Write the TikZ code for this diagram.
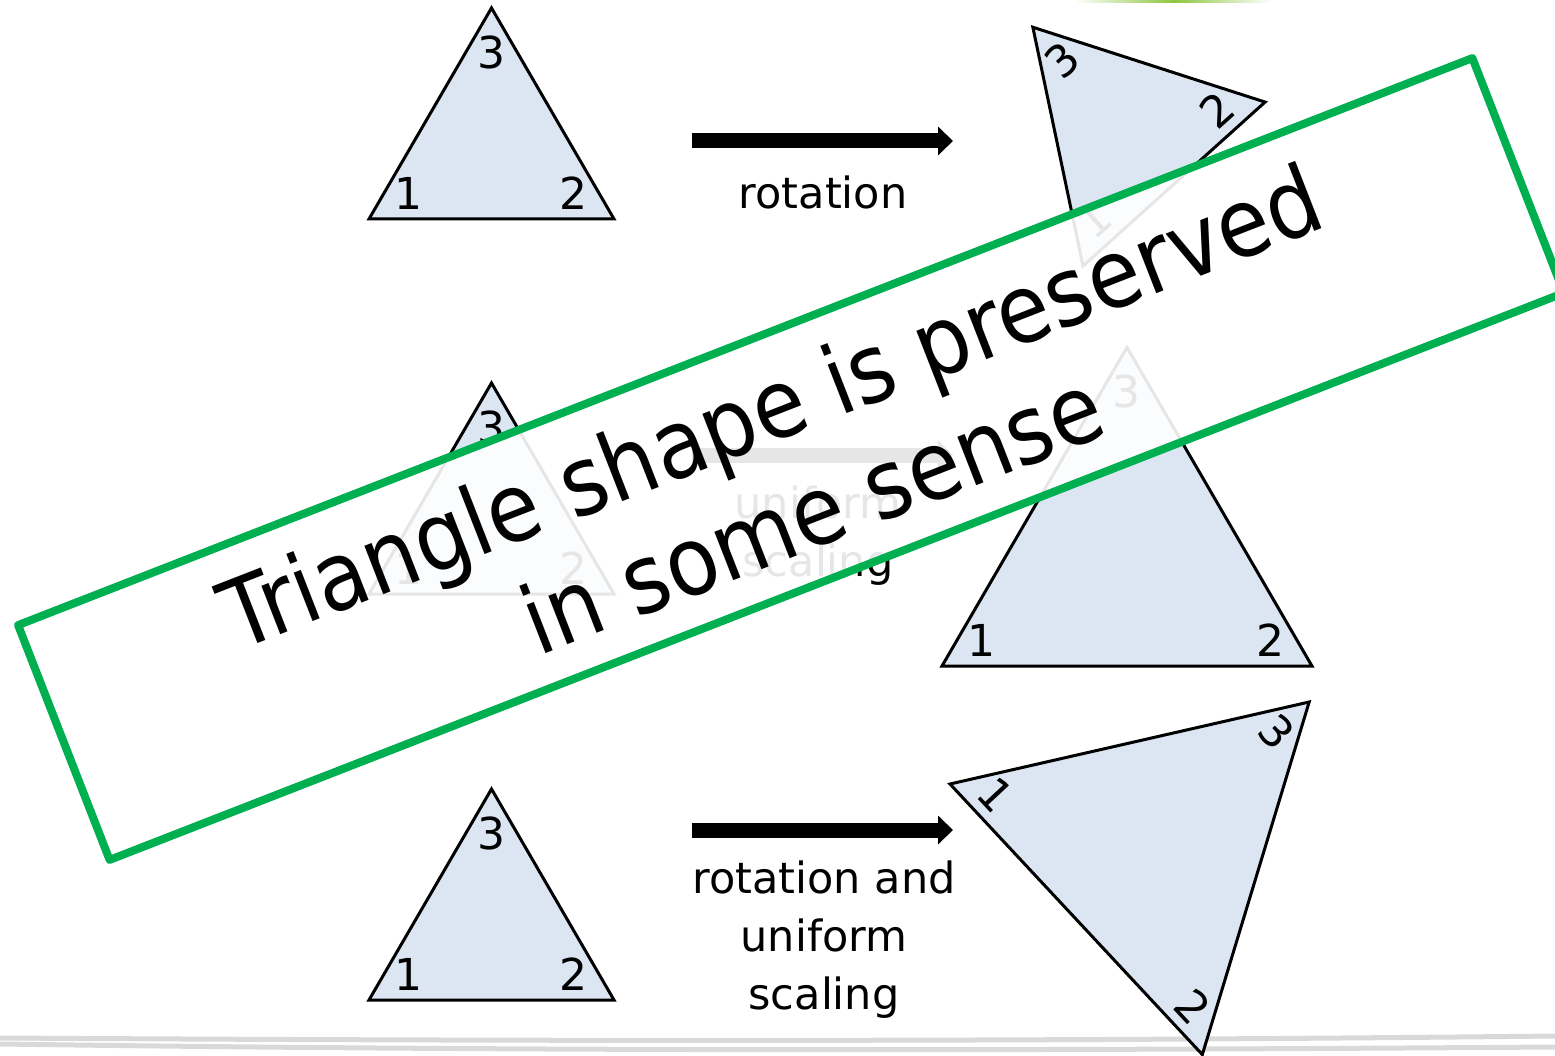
\documentclass[tikz,border=0pt]{standalone}
\usepackage{fontspec}
\setmainfont{DejaVu Sans}
\newfontfamily\bannerfont{DejaVu Sans Condensed}
\usetikzlibrary{arrows.meta}
\definecolor{tfill}{HTML}{DCE6F2}
\definecolor{pgreen}{HTML}{00B050}
\definecolor{lgreen}{HTML}{8DC63F}
\definecolor{wavegray}{HTML}{D9D9D9}
\tikzset{
  tri/.style={fill=tfill, draw=black, line width=3pt, line join=miter},
  lbl/.style={font=\fontsize{44}{54}\selectfont, inner sep=0pt, transform shape},
  captxt/.style={font=\fontsize{43}{58}\selectfont, align=center, inner sep=0pt},
  fatarrow/.style={line width=15pt, -{Triangle[length=15pt,width=28pt]}},
  banner/.style={draw=pgreen, line width=8pt, line join=round, fill=white,
    fill opacity=0.9, text opacity=1, inner sep=0pt, align=center,
    font=\bannerfont\fontsize{95}{114}\selectfont},
  wave/.style={draw=wavegray, line width=5pt}
}
\newcommand\tria[4]{%
  \begin{scope}[shift={#2}, rotate=#3]
    \coordinate (#1a) at (0,0);
    \coordinate (#1b) at ({245*#4},0);
    \coordinate (#1c) at ({122.5*#4},{-211*#4});
    \draw[tri] (#1a) -- (#1b) -- (#1c) -- cycle;
    \node[lbl] (#1la) at (39,-26) {1};
    \node[lbl] (#1lb) at ({245*#4-41},-26) {2};
    \node[lbl] (#1lc) at ({122.5*#4},{-211*#4+44}) {3};
  \end{scope}}
\begin{document}
\begin{tikzpicture}[x=1pt,y=-1pt]
  \useasboundingbox (0,0) rectangle (1555,1056);
  % slide decorations
  \shade[left color=white, right color=white, middle color=lgreen]
    (1075,0) rectangle (1272,2.5);
  \coordinate (wa1) at (0,1038);
  \coordinate (wa2) at (1555,1036);
  \coordinate (wb1) at (0,1044);
  \coordinate (wb2) at (1555,1047);
  \draw[wave] (wa1) .. controls (500,1041) and (1000,1042) .. (wa2);
  \draw[wave] (wb1) .. controls (500,1051) and (1000,1051) .. (wb2);
  % row 1: rotation
  \tria{tl}{(369,219)}{0}{1}
  \coordinate (r1s) at (692,141);
  \coordinate (r1e) at (953,141);
  \draw[fatarrow] (r1s) -- (r1e);
  \node[captxt, anchor=base] (t1) at (823,209) {rotation};
  \tria{tr}{(1083,266)}{42}{1}
  % row 2: uniform scaling
  \tria{ml}{(369,594)}{0}{1}
  \coordinate (r2s) at (692,455);
  \coordinate (r2e) at (953,455);
  \draw[fatarrow] (r2s) -- (r2e);
  \node[captxt] (t2) at (818,536) {uniform\\scaling};
  \tria{mr}{(942,666)}{0}{1.51}
  % row 3: rotation and uniform scaling
  \tria{bl}{(369,1000)}{0}{1}
  \coordinate (r3s) at (692,830);
  \coordinate (r3e) at (953,830);
  \draw[fatarrow] (r3s) -- (r3e);
  \node[captxt] (t3) at (824,940) {rotation and\\uniform\\scaling};
  \tria{br}{(950,784)}{-47}{1.51}
  % banner
  \node[banner, rotate=21.3, minimum width=1561pt, minimum height=252pt]
    (bn) at (791,459) {Triangle shape is preserved\\in some sense};
\end{tikzpicture}
\end{document}
